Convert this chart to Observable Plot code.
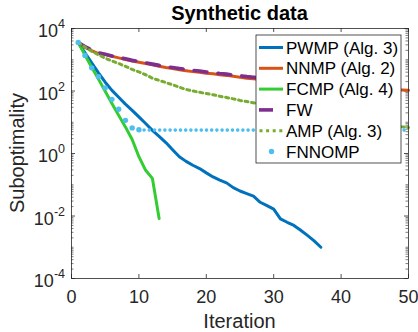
<!DOCTYPE html>
<html><head><meta charset="utf-8">
<script src="https://cdn.jsdelivr.net/npm/d3@7"></script>
<script src="https://cdn.jsdelivr.net/npm/@observablehq/plot@0.6"></script>
<style>
body{margin:0;background:#fff;}
svg{font-family:"Liberation Sans",Arial,Helvetica,sans-serif;}
</style>
</head><body><div id="chart"></div>
<script>
// ---------- data ----------
const pwmp = [3550,1660,794,380,191,105,63,38,24,14.8,9.1,5.5,3.55,2.24,1.32,0.79,0.56,0.42,0.33,0.24,
  0.178,0.141,0.115,0.081,0.063,0.052,0.043,0.0275,0.0214,0.0166,0.0081,0.0063,0.0050,0.0035,0.0024,0.0016,0.0010];
const nnmp = [3550,2510,1950,1580,1480,1290,1150,1020,912,832,759,692,617,562,525,479,447,417,398,372,
  355,331,316,295,275,257,245,234,224,209,200,191,182,174,166,158,151,148,141,138,
  132,129,126,120,117,115,112,110,107,105];
const fcmp = [3550,1410,575,240,98,40,16.6,7.1,2.8,0.79,0.29,0.16,0.0083];
const fw = [3550,2630,2040,1660,1510,1320,1175,1070,955,871,794,724,661,603,562,525,490,457,437,407,
  389,363,347,324,309,288,275,263,251,240,229,219,209,200,191,186,178,174,166,162,
  158,155,151,148,145,141,138,135,132,132];
const amp = [3550,2510,1860,1450,1120,912,759,617,490,407,331,257,219,186,158,132,112,100,91,83,
  76,68,62,56,50,46,42,38,35,32,29,26,24,22,20,18.6,17,15.8,14.8,13.5,
  12.6,11.7,11.0,10.2,9.5,8.9,8.3,7.8,7.2,6.8];
const fnnomp = [3550,1380,550,288,126,54,26,11.5,6.6,5.75,5.6,5.6,5.6,5.6,5.6,5.6,5.6,5.6,5.6,5.6,
  5.6,5.6,5.6,5.6,5.6,5.6,5.6,5.6,5.6,5.6,5.6,5.6,5.6,5.6,5.6,5.6,5.6,5.6,5.6,5.6,
  5.6,5.6,5.6,5.6,5.6,5.6,5.6,5.6,5.6,5.6];

const seriesNames = ["PWMP (Alg. 3)","NNMP (Alg. 2)","FCMP (Alg. 4)","FW","AMP (Alg. 3)","FNNOMP"];
const seriesColors = ["#0072BD","#D95319","#33CC33","#7E2F8E","#77AC30","#4DBEEE"];
const xTicks = [0,10,20,30,40,50];
const yTicks = [1e-4,1e-2,1,1e2,1e4];
const yMidDecades = [1e-3,1e-1,1e1,1e3];
const title = "Synthetic data";
const xLabel = "Iteration";
const yLabel = "Suboptimality";

// ---------- tables ----------
const toRows = (vals) => vals.map((v,i)=>({iter:i+1, value:v}));
const tPWMP = toRows(pwmp), tNNMP = toRows(nnmp), tFCMP = toRows(fcmp),
      tFW = toRows(fw), tAMP = toRows(amp), tFNN = toRows(fnnomp);
const fnnDots = tFNN.filter(d => d.iter <= 10);
const fnnFlat = tFNN.filter(d => d.iter >= 10);

const yMinor = [];
for (let k=-4;k<4;k++) for (let m=2;m<=9;m++) yMinor.push(m*Math.pow(10,k));

// ---------- layout ----------
const W=418, H=332, mL=71, mR=10, mT=28, mB=54;
const pw = W-mL-mR, ph = H-mT-mB;
const ax = "#262626";

const plot = Plot.plot({
  width: W, height: H,
  marginLeft: mL, marginRight: mR, marginTop: mT, marginBottom: mB,
  style: {fontFamily: "Liberation Sans, Arial, Helvetica, sans-serif", background: "#fff", color: ax, overflow: "visible"},
  x: {domain: [0,50]},
  y: {type: "log", domain: [1e-4,1e4], axis: null},
  marks: [
    Plot.axisX({ticks: xTicks, tickSize: 0, tickPadding: 12, fontSize: 18, label: null, tickFormat: d => String(d)}),
    // x ticks (inward, bottom & top)
    Plot.tickX(xTicks, {x: d=>d, insetTop: ph-4, stroke: ax, strokeWidth: 0.8}),
    Plot.tickX(xTicks, {x: d=>d, insetBottom: ph-4, stroke: ax, strokeWidth: 0.8}),
    // y major ticks
    Plot.tickY(yTicks, {y: d=>d, insetRight: pw-4, stroke: ax, strokeWidth: 0.8}),
    Plot.tickY(yTicks, {y: d=>d, insetLeft: pw-4, stroke: ax, strokeWidth: 0.8}),
    // y minor ticks
    Plot.tickY(yMinor.concat(yMidDecades), {y: d=>d, insetRight: pw-2.5, stroke: ax, strokeWidth: 0.6}),
    Plot.tickY(yMinor.concat(yMidDecades), {y: d=>d, insetLeft: pw-2.5, stroke: ax, strokeWidth: 0.6}),
    // series
    Plot.line(tPWMP, {x:"iter", y:"value", stroke: seriesColors[0], strokeWidth: 3, strokeLinejoin:"round"}),
    Plot.line(tNNMP, {x:"iter", y:"value", stroke: seriesColors[1], strokeWidth: 3, strokeLinejoin:"round"}),
    Plot.line(tFCMP, {x:"iter", y:"value", stroke: seriesColors[2], strokeWidth: 3, strokeLinejoin:"round"}),
    Plot.line(tFW, {x:"iter", y:"value", stroke: seriesColors[3], strokeWidth: 3.6, strokeDasharray: "13,11"}),
    Plot.line(tAMP, {x:"iter", y:"value", stroke: seriesColors[4], strokeWidth: 3, strokeDasharray: "3,3.6"}),
    Plot.line(fnnFlat, {x:"iter", y:"value", stroke: seriesColors[5], strokeWidth: 3.6, strokeDasharray: "0,5.2", strokeLinecap: "round"}),
    Plot.dot(fnnDots, {x:"iter", y:"value", fill: seriesColors[5], r: 2.7}),
    Plot.frame({stroke: ax, strokeWidth: 0.8})
  ]
});

document.getElementById("chart").appendChild(plot);
const svg = d3.select(plot);
const ys = plot.scale("y");
const xs = plot.scale("x");
const FF = "Liberation Sans, Arial, Helvetica, sans-serif";

// y tick labels with superscript exponents
yTicks.forEach(v => {
  const e = Math.round(Math.log10(v));
  const t = svg.append("text")
    .attr("x", mL-6).attr("y", ys.apply(v)+9)
    .attr("text-anchor","end").attr("font-family",FF).attr("font-size",18).attr("fill",ax)
    .text("10");
  t.append("tspan").attr("dy",-9).attr("font-size",12.5).text(String(e));
});

// title and axis labels
const xMid = (xs.apply(0)+xs.apply(50))/2;
svg.append("text").attr("x", xMid).attr("y", 20).attr("text-anchor","middle")
  .attr("font-family",FF).attr("font-size",20).attr("font-weight","bold").attr("fill","#000").text(title);
svg.append("text").attr("x", xMid).attr("y", 328).attr("text-anchor","middle")
  .attr("font-family",FF).attr("font-size",20).attr("fill",ax).text(xLabel);
svg.append("text").attr("transform", `translate(24,${(ys.apply(1e-4)+ys.apply(1e4))/2}) rotate(-90)`)
  .attr("text-anchor","middle").attr("font-family",FF).attr("font-size",20).attr("fill",ax).text(yLabel);

// legend
const lg = svg.append("g").attr("text-anchor","start");
lg.append("rect").attr("x",256).attr("y",35).attr("width",145).attr("height",128)
  .attr("fill","#fff").attr("stroke",ax).attr("stroke-width",0.8);
seriesNames.forEach((name,i) => {
  const cy = 47.5 + i*20.8;
  const c = seriesColors[i];
  if (i <= 2) {
    lg.append("line").attr("x1",259).attr("x2",283).attr("y1",cy).attr("y2",cy)
      .attr("stroke",c).attr("stroke-width",3);
  } else if (i === 3) {
    lg.append("line").attr("x1",259).attr("x2",273).attr("y1",cy).attr("y2",cy)
      .attr("stroke",c).attr("stroke-width",3.6);
  } else if (i === 4) {
    lg.append("line").attr("x1",259.5).attr("x2",284).attr("y1",cy).attr("y2",cy)
      .attr("stroke",c).attr("stroke-width",3).attr("stroke-dasharray","3,3.6");
  } else {
    lg.append("circle").attr("cx",271.5).attr("cy",cy).attr("r",2.7).attr("fill",c);
  }
  lg.append("text").attr("x",286).attr("y",cy).attr("dy","0.36em").attr("text-anchor","start")
    .attr("font-family",FF).attr("font-size",17).attr("fill","#000").text(name);
});
</script>
</body></html>
